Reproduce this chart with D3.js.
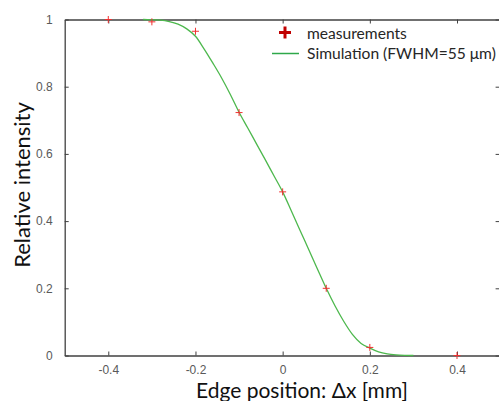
<!DOCTYPE html>
<html>
<head>
<meta charset="utf-8">
<script src="https://cdn.jsdelivr.net/npm/d3@7"></script>
<style>
  body { margin: 0; background: #fff; }
  svg { display: block; }
</style>
</head>
<body>
<div id="chart"></div>
<script>
// measured points
var measX = [-0.4, -0.3, -0.2, -0.1, 0, 0.1, 0.2, 0.4];
var measY = [1.0, 0.993, 0.965, 0.723, 0.487, 0.2, 0.024, 0.0];

// simulated edge response
var simX = [-0.32, -0.3, -0.28, -0.26, -0.24, -0.22, -0.2, -0.18, -0.16, -0.14, -0.12, -0.1,
            -0.08, -0.06, -0.04, -0.02, 0, 0.02, 0.04, 0.06, 0.08, 0.1, 0.12, 0.14,
            0.16, 0.18, 0.2, 0.22, 0.24, 0.26, 0.28, 0.3];
var simY = [1.0, 0.999, 0.998, 0.994, 0.986, 0.972, 0.95, 0.912, 0.87, 0.826, 0.777, 0.724,
            0.677, 0.63, 0.583, 0.535, 0.487, 0.43, 0.372, 0.315, 0.257, 0.2, 0.148, 0.102,
            0.063, 0.036, 0.022, 0.011, 0.005, 0.002, 0.0006, 0.0];

var xTicks = [-0.4, -0.2, 0, 0.2, 0.4];
var xTickLabels = ["-0.4", "-0.2", "0", "0.2", "0.4"];
var yTicks = [0, 0.2, 0.4, 0.6, 0.8, 1];
var yTickLabels = ["0", "0.2", "0.4", "0.6", "0.8", "1"];

var svgWidth = 499;
var svgHeight = 401;

var svg = d3.select("#chart").append("svg")
    .attr("width", svgWidth)
    .attr("height", svgHeight);

// scales (right edge of the frame falls just outside the picture)
var xScale = d3.scaleLinear().domain([-0.5, 0.5]).range([64.7, 500.6]);
var yScale = d3.scaleLinear().domain([0, 1]).range([355.5, 19.5]);

var axisColor = "#404040";
var labelColor = "#595959";

// tick marks pointing inward on all four sides
var bottomAxis = d3.axisBottom(xScale).tickValues(xTicks).tickSizeInner(-4).tickSizeOuter(0)
    .tickPadding(10).tickFormat((d, i) => xTickLabels[i]);
var topAxis = d3.axisTop(xScale).tickValues(xTicks).tickSizeInner(-4).tickSizeOuter(0).tickFormat("");
var leftAxis = d3.axisLeft(yScale).tickValues(yTicks).tickSizeInner(-4).tickSizeOuter(0)
    .tickPadding(12).tickFormat((d, i) => yTickLabels[i]);
var rightAxis = d3.axisRight(yScale).tickValues(yTicks).tickSizeInner(-5).tickSizeOuter(0).tickFormat("");

function styleAxis(g) {
  g.selectAll("path").attr("stroke", axisColor).attr("stroke-width", 1.3);
  g.selectAll("line").attr("stroke", axisColor).attr("stroke-width", 1);
  g.selectAll("text")
    .attr("fill", labelColor)
    .attr("font-family", "Liberation Sans, Arial, sans-serif")
    .attr("font-size", "12px");
}

svg.append("g").attr("transform", `translate(0, ${yScale(0)})`).call(bottomAxis).call(styleAxis);
svg.append("g").attr("transform", `translate(0, ${yScale(1)})`).call(topAxis).call(styleAxis);
svg.append("g").attr("transform", `translate(${xScale(-0.5)}, 0)`).call(leftAxis).call(styleAxis);
svg.append("g").attr("transform", `translate(${xScale(0.5)}, 0)`).call(rightAxis).call(styleAxis);

// simulation curve
var simData = simX.map((x, i) => [x, simY[i]]);
var line = d3.line()
    .x(d => xScale(d[0]))
    .y(d => yScale(d[1]))
    .curve(d3.curveMonotoneX);

svg.append("path")
    .datum(simData)
    .attr("fill", "none")
    .attr("stroke", "#4db84d")
    .attr("stroke-width", 1.3)
    .attr("d", line);

// measurement crosses
var measData = measX.map((x, i) => [x, measY[i]]);
var cross = 3.5;
var pts = svg.append("g").selectAll("g")
    .data(measData)
    .enter()
    .append("g")
    .attr("transform", d => `translate(${xScale(d[0])}, ${yScale(d[1])})`);
pts.append("line").attr("x1", -cross).attr("x2", cross).attr("y1", 0).attr("y2", 0)
    .attr("stroke", "#f03030").attr("stroke-width", 1);
pts.append("line").attr("x1", 0).attr("x2", 0).attr("y1", -cross).attr("y2", cross)
    .attr("stroke", "#f03030").attr("stroke-width", 1);

// legend
var legend = svg.append("g");
legend.append("line").attr("x1", 279).attr("x2", 291).attr("y1", 32.5).attr("y2", 32.5)
    .attr("stroke", "#c00000").attr("stroke-width", 3);
legend.append("line").attr("x1", 285).attr("x2", 285).attr("y1", 26.5).attr("y2", 38.5)
    .attr("stroke", "#c00000").attr("stroke-width", 3);
legend.append("text").attr("x", 307).attr("y", 38.5)
    .attr("font-family", "Lato, sans-serif").attr("font-size", "15.6px").attr("fill", "#262626")
    .text("measurements");
legend.append("line").attr("x1", 272).attr("x2", 299).attr("y1", 53.5).attr("y2", 53.5)
    .attr("stroke", "#2ea84a").attr("stroke-width", 1.5);
legend.append("text").attr("x", 307).attr("y", 59)
    .attr("font-family", "Lato, sans-serif").attr("font-size", "15.6px").attr("fill", "#262626")
    .text("Simulation (FWHM=55 μm)");

// axis titles
svg.append("text")
    .attr("x", 302).attr("y", 398)
    .attr("text-anchor", "middle")
    .attr("font-family", "Lato, sans-serif").attr("font-size", "21px").attr("fill", "#111")
    .text("Edge position: Δx [mm]");

svg.append("text")
    .attr("transform", `translate(30, 185) rotate(-90)`)
    .attr("text-anchor", "middle")
    .attr("font-family", "Lato, sans-serif").attr("font-size", "22px").attr("fill", "#111")
    .text("Relative intensity");
</script>
</body>
</html>
